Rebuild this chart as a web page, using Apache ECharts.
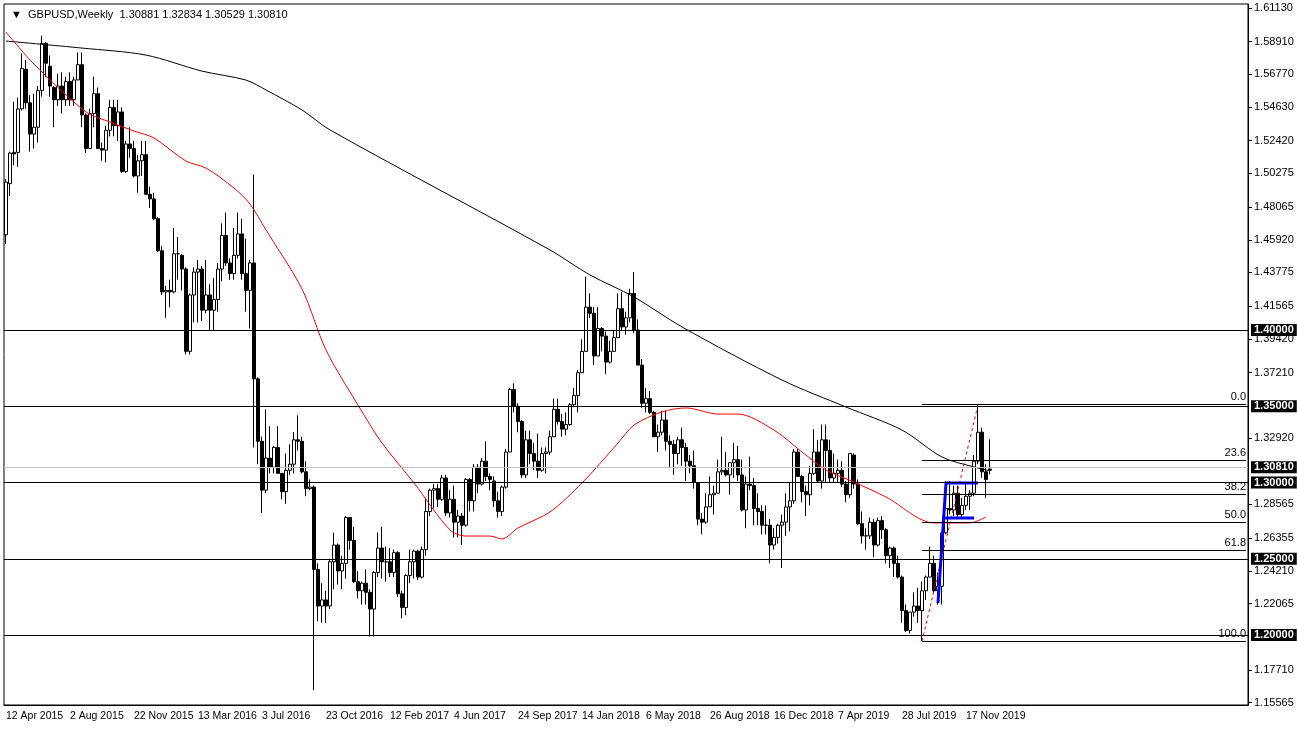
<!DOCTYPE html>
<html><head><meta charset="utf-8">
<script src="https://cdn.jsdelivr.net/npm/echarts@6/dist/echarts.min.js"></script>
<style>html,body{margin:0;padding:0;background:#fff}#c{width:1297px;height:729px}</style>
</head><body><div id="c"></div>
<script>
const startDate = '2015-04-12';
const totalSlots = 311;
const opens = [1.4625,1.4960,1.5165,1.5165,1.5450,1.5710,1.5490,1.5285,1.5330,1.5570,1.5880,1.5730,1.5590,1.5510,1.5600,1.5510,1.5630,1.5510,1.5640,1.5740,
1.5410,1.5190,1.5420,1.5550,1.5190,1.5180,1.5310,1.5460,1.5340,1.5430,1.5040,1.5220,1.5190,1.5010,1.5110,1.5150,1.4890,1.4860,1.4730,1.4520,
1.4250,1.4260,1.4250,1.4500,1.4490,1.4400,1.3860,1.4230,1.4380,1.4400,1.4130,1.4230,1.4130,1.4200,1.4400,1.4620,1.4440,1.4370,1.4490,1.4630,
1.4370,1.4260,1.4440,1.3680,1.3270,1.2950,1.3160,1.3100,1.3230,1.3060,1.2940,1.3080,1.3120,1.3280,1.3270,1.3070,1.2960,1.2970,1.2430,1.2190,
1.2230,1.2190,1.2480,1.2590,1.2420,1.2470,1.2770,1.2620,1.2350,1.2290,1.2340,1.2280,1.2170,1.2410,1.2570,1.2480,1.2480,1.2410,1.2540,1.2270,
1.2180,1.2390,1.2480,1.2550,1.2380,1.2560,1.2810,1.2950,1.2960,1.2890,1.3030,1.2800,1.2890,1.2740,1.2780,1.2720,1.3020,1.2880,1.3100,1.2990,
1.3140,1.3040,1.3010,1.2880,1.2810,1.2970,1.3200,1.3610,1.3500,1.3400,1.3050,1.3280,1.3190,1.3140,1.3080,1.3190,1.3200,1.3300,1.3480,1.3400,
1.3350,1.3380,1.3510,1.3570,1.3720,1.3860,1.4150,1.4110,1.3830,1.4010,1.3960,1.3790,1.3860,1.3950,1.4140,1.4020,1.4080,1.4240,1.4000,1.3770,
1.3520,1.3550,1.3460,1.3300,1.3330,1.3410,1.3270,1.3250,1.3190,1.3280,1.3230,1.3140,1.3110,1.3000,1.2760,1.2740,1.2840,1.2920,1.2930,1.3070,
1.3080,1.3050,1.3130,1.3150,1.3050,1.2820,1.2990,1.2980,1.2830,1.2810,1.2720,1.2720,1.2590,1.2640,1.2720,1.2740,1.2840,1.2880,1.3200,1.3040,
1.2940,1.2920,1.3060,1.3200,1.3010,1.3280,1.3210,1.3030,1.3060,1.3080,1.2990,1.2920,1.3180,1.2990,1.2730,1.2650,1.2650,1.2740,1.2590,1.2750,
1.2690,1.2520,1.2570,1.2470,1.2380,1.2160,1.2030,1.2150,1.2190,1.2160,1.2290,1.2380,1.2470,1.2290,1.2320,1.2670,1.2830,1.2820,1.2930,1.2790,
1.2850,1.2910,1.2930,1.3140,1.3330,1.3070,1.30881];
const highs = [1.4990,1.5170,1.5497,1.5524,1.5815,1.5770,1.5540,1.5550,1.5600,1.5930,1.5890,1.5800,1.5600,1.5680,1.5690,1.5660,1.5690,1.5660,1.5820,1.5820,
1.5420,1.5450,1.5660,1.5590,1.5230,1.5340,1.5510,1.5510,1.5510,1.5460,1.5240,1.5330,1.5240,1.5150,1.5240,1.5240,1.4940,1.4900,1.4740,1.4550,
1.4290,1.4330,1.4670,1.4610,1.4500,1.4410,1.4240,1.4410,1.4460,1.4420,1.4460,1.4300,1.4340,1.4440,1.4700,1.4770,1.4470,1.4670,1.4770,1.4730,
1.4600,1.4460,1.5020,1.3690,1.3300,1.3480,1.3370,1.3240,1.3370,1.3060,1.3190,1.3250,1.3330,1.3440,1.3300,1.3140,1.3020,1.2980,1.2470,1.2340,
1.2290,1.2500,1.2670,1.2600,1.2520,1.2780,1.2770,1.2710,1.2420,1.2350,1.2430,1.2300,1.2420,1.2670,1.2710,1.2580,1.2570,1.2560,1.2550,1.2290,
1.2400,1.2560,1.2560,1.2560,1.2580,1.2900,1.2960,1.2990,1.2990,1.3050,1.3050,1.2950,1.2980,1.2820,1.2800,1.3030,1.3030,1.3120,1.3120,1.3160,
1.3270,1.3060,1.3040,1.2940,1.2980,1.3220,1.3620,1.3650,1.3520,1.3410,1.3340,1.3340,1.3260,1.3320,1.3230,1.3230,1.3340,1.3550,1.3550,1.3450,
1.3460,1.3520,1.3620,1.3740,1.3940,1.4350,1.4240,1.4150,1.4150,1.4020,1.3990,1.3930,1.4000,1.4240,1.4250,1.4120,1.4270,1.4380,1.4070,1.3810,
1.3620,1.3600,1.3470,1.3380,1.3470,1.3470,1.3310,1.3280,1.3300,1.3360,1.3260,1.3180,1.3210,1.3000,1.2800,1.2930,1.3040,1.2980,1.3150,1.3300,
1.3200,1.3130,1.3260,1.3240,1.3150,1.3040,1.3170,1.3030,1.2930,1.2850,1.2850,1.2760,1.2700,1.2730,1.2790,1.2930,1.3000,1.3220,1.3220,1.3050,
1.2980,1.3110,1.3350,1.3280,1.3380,1.3380,1.3280,1.3190,1.3150,1.3140,1.3010,1.3190,1.3190,1.3020,1.2810,1.2700,1.2770,1.2760,1.2770,1.2780,
1.2700,1.2580,1.2580,1.2520,1.2390,1.2200,1.2150,1.2280,1.2310,1.2350,1.2390,1.2580,1.2520,1.2410,1.2670,1.3010,1.3010,1.2980,1.2980,1.2900,
1.2990,1.2950,1.3180,1.3510,1.3360,1.3120,1.32834];
const lows = [1.4565,1.4880,1.5080,1.5070,1.5440,1.5450,1.5170,1.5190,1.5230,1.5530,1.5660,1.5530,1.5330,1.5470,1.5420,1.5470,1.5470,1.5470,1.5640,1.5330,
1.5160,1.5190,1.5330,1.5190,1.5110,1.5100,1.5270,1.5270,1.5240,1.5030,1.5030,1.5130,1.5000,1.4900,1.5010,1.4890,1.4800,1.4720,1.4510,1.4230,
1.4080,1.4150,1.4240,1.4330,1.4260,1.3840,1.3840,1.4050,1.4050,1.4060,1.4110,1.4000,1.4000,1.4120,1.4320,1.4420,1.4330,1.4330,1.4470,1.4330,
1.4120,1.4010,1.3230,1.3120,1.2800,1.2930,1.3060,1.3060,1.3060,1.2890,1.2860,1.3050,1.3060,1.3210,1.3060,1.2910,1.2950,1.1640,1.2090,1.2080,
1.2080,1.2170,1.2300,1.2330,1.2300,1.2370,1.2560,1.2340,1.2240,1.2200,1.2200,1.1990,1.1990,1.2380,1.2370,1.2350,1.2380,1.2380,1.2250,1.2110,
1.2130,1.2340,1.2370,1.2360,1.2370,1.2520,1.2780,1.2830,1.2840,1.2880,1.2780,1.2770,1.2640,1.2640,1.2590,1.2710,1.2810,1.2810,1.2930,1.2980,
1.3010,1.2950,1.2840,1.2770,1.2780,1.2960,1.3200,1.3460,1.3330,1.3030,1.3030,1.3120,1.3080,1.3030,1.3070,1.3060,1.3180,1.3300,1.3380,1.3300,
1.3310,1.3370,1.3500,1.3460,1.3720,1.3860,1.4080,1.3770,1.3830,1.3860,1.3710,1.3780,1.3860,1.3950,1.4000,1.3970,1.4050,1.3980,1.3770,1.3490,
1.3460,1.3450,1.3300,1.3200,1.3310,1.3210,1.3100,1.3050,1.3120,1.3110,1.3010,1.3060,1.2960,1.2720,1.2660,1.2730,1.2840,1.2790,1.2930,1.3050,
1.3040,1.2920,1.3030,1.3010,1.2810,1.2700,1.2950,1.2720,1.2720,1.2660,1.2660,1.2470,1.2560,1.2600,1.2440,1.2650,1.2680,1.2860,1.3040,1.2870,
1.2780,1.2850,1.3050,1.3000,1.2960,1.3000,1.3000,1.3000,1.3000,1.2970,1.2870,1.2900,1.2960,1.2720,1.2600,1.2560,1.2630,1.2510,1.2580,1.2630,
1.2470,1.2440,1.2380,1.2370,1.2080,1.2020,1.2010,1.2120,1.2080,1.1960,1.2230,1.2380,1.2270,1.2200,1.2200,1.2660,1.2790,1.2780,1.2770,1.2770,
1.2820,1.2820,1.2910,1.3120,1.3030,1.2900,1.30529];
const closes = [1.4970,1.5160,1.5155,1.5450,1.5715,1.5490,1.5285,1.5330,1.5570,1.5880,1.5750,1.5600,1.5510,1.5600,1.5510,1.5630,1.5510,1.5640,1.5740,1.5410,
1.5190,1.5420,1.5550,1.5190,1.5180,1.5310,1.5460,1.5340,1.5430,1.5040,1.5220,1.5190,1.5010,1.5110,1.5150,1.4890,1.4860,1.4730,1.4520,1.4250,
1.4260,1.4250,1.4500,1.4500,1.4400,1.3860,1.4230,1.4380,1.4400,1.4130,1.4230,1.4130,1.4200,1.4400,1.4620,1.4440,1.4370,1.4490,1.4630,1.4370,
1.4260,1.4440,1.3680,1.3270,1.2950,1.3160,1.3100,1.3230,1.3060,1.2940,1.3080,1.3120,1.3280,1.3270,1.3070,1.2960,1.2970,1.2430,1.2190,1.2230,
1.2190,1.2480,1.2590,1.2420,1.2470,1.2770,1.2620,1.2350,1.2290,1.2340,1.2280,1.2170,1.2410,1.2570,1.2480,1.2480,1.2410,1.2540,1.2270,1.2180,
1.2390,1.2480,1.2550,1.2380,1.2560,1.2810,1.2950,1.2960,1.2890,1.3030,1.2800,1.2890,1.2740,1.2780,1.2720,1.3020,1.2880,1.3100,1.2990,1.3140,
1.3040,1.3020,1.2880,1.2810,1.2970,1.3200,1.3610,1.3500,1.3400,1.3050,1.3280,1.3190,1.3140,1.3080,1.3190,1.3200,1.3300,1.3480,1.3400,1.3350,
1.3380,1.3510,1.3570,1.3720,1.3860,1.4150,1.4110,1.3830,1.4010,1.3960,1.3790,1.3860,1.3950,1.4140,1.4020,1.4080,1.4240,1.4000,1.3770,1.3520,
1.3550,1.3460,1.3300,1.3330,1.3410,1.3270,1.3250,1.3190,1.3280,1.3230,1.3140,1.3110,1.3000,1.2760,1.2740,1.2840,1.2920,1.2930,1.3070,1.3080,
1.3050,1.3130,1.3150,1.3050,1.2820,1.2990,1.2980,1.2830,1.2810,1.2720,1.2720,1.2590,1.2640,1.2720,1.2740,1.2840,1.2880,1.3200,1.3040,1.2940,
1.2920,1.3060,1.3200,1.3010,1.3280,1.3210,1.3030,1.3060,1.3080,1.2990,1.2920,1.3190,1.2990,1.2730,1.2650,1.2650,1.2740,1.2590,1.2750,1.2690,
1.2520,1.2570,1.2470,1.2380,1.2160,1.2030,1.2150,1.2190,1.2160,1.2290,1.2380,1.2470,1.2290,1.2320,1.2670,1.2830,1.2820,1.2930,1.2790,1.2850,
1.2910,1.2930,1.3140,1.3330,1.3070,1.3020,1.30810];
const ma200 = [[0,1.5895],[19,1.5849],[35,1.5803],[49,1.5698],[60,1.5639],[65,1.5574],[74,1.5443],[81,1.5312],[136,1.4525],[146,1.4361],[157,1.4217],[169,1.4020],[194,1.3672],[210,1.3495],[224,1.3344],[234,1.3167],[242,1.3102],[246,1.3076]];
const ma50 = [[0,1.5954],[7,1.5744],[20,1.5430],[26,1.5364],[32,1.5305],[37,1.5259],[45,1.5108],[50,1.5062],[57,1.4931],[61,1.4826],[65,1.4656],[74,1.4269],[80,1.3869],[88,1.3508],[94,1.3259],[102,1.2997],[111,1.2689],[115,1.2649],[121,1.2649],[124,1.2630],[128,1.2702],[136,1.2807],[144,1.2997],[153,1.3259],[157,1.3377],[164,1.3463],[170,1.3489],[178,1.3449],[183,1.3449],[192,1.3344],[199,1.3200],[205,1.3082],[212,1.3003],[220,1.2905],[232,1.2735],[241,1.2735],[245,1.2774]];
const tickLabels = [1.61130,1.58910,1.56770,1.54630,1.52420,1.50275,1.48065,1.45920,1.43775,1.41565,1.39420,1.37210,1.32920,1.28565,1.26355,1.24210,1.22065,1.17710,1.15565];
const levels = [1.40,1.35,1.30,1.25,1.20];
const bidPrice = 1.30810;
const fibNames = ['0.0','23.6','38.2','50.0','61.8','100.0'];
const fibValues = [1.3514,1.3147,1.2920,1.2737,1.2553,1.1959];
const fibStart = 229;
const dashLine = [[229,1.1959],[243,1.3510]];
const blueFlag = [[233,1.2210],[235,1.2997],[243,1.2997]];
const blueBase = [[234,1.2767],[242,1.2767]];
const titleText = '▼  GBPUSD,Weekly  1.30881 1.32834 1.30529 1.30810';

const months=['Jan','Feb','Mar','Apr','May','Jun','Jul','Aug','Sep','Oct','Nov','Dec'];
const cats=[];const d0=new Date(startDate+'T00:00:00Z');
for(let i=0;i<totalSlots;i++){const d=new Date(d0.getTime()+i*7*86400000);cats.push(d.getUTCDate()+' '+months[d.getUTCMonth()]+' '+d.getUTCFullYear());}
const lastIdx=opens.length-1;
const candles=opens.map((o,i)=>[o,closes[i],lows[i],highs[i]]);
const F='Liberation Sans';
const boxLabel=t=>({show:true,position:'end',distance:3,formatter:t,color:'#fff',backgroundColor:'#000',padding:[1,3,0,3],fontFamily:F,fontSize:11,fontWeight:'bold'});
const levelLines=levels.map(v=>({yAxis:v,lineStyle:{color:'#000',width:1,type:'solid'},label:boxLabel(v.toFixed(5))}));
levelLines.push({yAxis:bidPrice,lineStyle:{color:'#c0c0c0',width:1,type:'solid'},label:boxLabel(bidPrice.toFixed(5))});
const fibLines=fibValues.map((v,k)=>[{coord:[fibStart,v],lineStyle:{color:'#000',width:1,type:'solid'},label:{show:true,position:'insideEndTop',formatter:fibNames[k],color:'#000',fontFamily:F,fontSize:11,distance:[0,2]}},{coord:[totalSlots-1,v]}]);
const tickShow=i=>i%16===0&&i<=lastIdx;
const chart=echarts.init(document.getElementById('c'));
chart.setOption({
  animation:false,
  title:{text:titleText,left:6,top:4,textStyle:{fontFamily:F,fontSize:11,fontWeight:'normal',color:'#000'}},
  grid:{left:4,right:49,top:4,bottom:24,show:true,borderColor:'#000',borderWidth:1},
  xAxis:{type:'category',data:cats,boundaryGap:true,axisLine:{lineStyle:{color:'#000'}},
    axisTick:{interval:tickShow,length:4,lineStyle:{color:'#000'}},
    axisLabel:{interval:tickShow,align:'left',margin:6,color:'#000',fontFamily:F,fontSize:10.5}},
  yAxis:{type:'value',position:'right',min:1.1541,max:1.6138,splitLine:{show:false},
    axisLine:{show:true,lineStyle:{color:'#000'}},
    axisTick:{show:true,customValues:tickLabels,length:4,lineStyle:{color:'#000'}},
    axisLabel:{customValues:tickLabels,formatter:v=>v.toFixed(5),color:'#000',fontFamily:F,fontSize:11,margin:6}},
  series:[
    {type:'candlestick',data:candles,barWidth:3,
     itemStyle:{color:'#fff',color0:'#000',borderColor:'#000',borderColor0:'#000',borderWidth:1},
     markLine:{silent:true,symbol:'none',data:levelLines.concat(fibLines),animation:false}},
    {type:'line',data:ma200,showSymbol:false,smooth:0.3,lineStyle:{color:'#000',width:1},silent:true},
    {type:'line',data:ma50,showSymbol:false,smooth:0.3,lineStyle:{color:'#ff0000',width:1},silent:true},
    {type:'line',data:dashLine,showSymbol:false,lineStyle:{color:'#ff0000',width:1,type:[3,3]},silent:true},
    {type:'line',data:blueFlag,showSymbol:false,lineStyle:{color:'#0000ff',width:3},silent:true},
    {type:'line',data:blueBase,showSymbol:false,lineStyle:{color:'#0000ff',width:3},silent:true}
  ]
});
</script></body></html>
